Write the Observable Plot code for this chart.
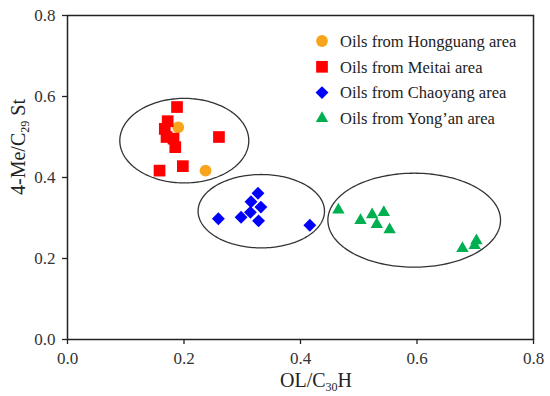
<!DOCTYPE html>
<html><head><meta charset="utf-8">
<script src="https://cdn.jsdelivr.net/npm/d3@7"></script>
<script src="https://cdn.jsdelivr.net/npm/@observablehq/plot@0.6"></script>
<style>
body{margin:0;background:#fff;}
#wrap{position:relative;width:550px;height:396px;}
</style></head><body><div id="wrap"></div>
<script>
// ---- data ----
const hongguangX = [0.190, 0.237];
const hongguangY = [0.524, 0.417];
const meitaiX = [0.188, 0.172, 0.167, 0.170, 0.182, 0.185, 0.260, 0.198, 0.158];
const meitaiY = [0.574, 0.539, 0.520, 0.500, 0.496, 0.475, 0.500, 0.428, 0.417];
const chaoyangX = [0.327, 0.315, 0.332, 0.314, 0.298, 0.259, 0.328, 0.416];
const chaoyangY = [0.361, 0.340, 0.327, 0.314, 0.302, 0.298, 0.293, 0.282];
const yonganX = [0.465, 0.503, 0.523, 0.543, 0.531, 0.553, 0.678, 0.702, 0.699];
const yonganY = [0.320, 0.294, 0.308, 0.314, 0.284, 0.271, 0.225, 0.244, 0.232];
const seriesNames = ["Oils from Hongguang area", "Oils from Meitai area", "Oils from Chaoyang area", "Oils from Yong\u2019an area"];
const xTicks = [0, 0.2, 0.4, 0.6, 0.8];
const yTicks = [0, 0.2, 0.4, 0.6, 0.8];
// group ellipses: center and semi-axes in data units
const ellipseCx = [0.2005, 0.3327, 0.5952];
const ellipseCy = [0.491, 0.3168, 0.2946];
const ellipseRx = [0.1107, 0.1085, 0.1482];
const ellipseRy = [0.1044, 0.0906, 0.1160];

// ---- styles ----
const colors = ["#F9A51B", "#FF0000", "#0000FF", "#00B050"];
const symbols = ["circle", "square", "diamond2", "triangle"];
const radii = [5.9, 6.6, 5.8, 4.6];
const FONT = "'Liberation Serif', 'Times New Roman', serif";

const toRows = (xs, ys) => xs.map((x, i) => ({x, y: ys[i]}));
const groups = [
  toRows(hongguangX, hongguangY),
  toRows(meitaiX, meitaiY),
  toRows(chaoyangX, chaoyangY),
  toRows(yonganX, yonganY)
];

const ellipsePts = [];
ellipseCx.forEach((cx, k) => {
  for (let i = 0; i < 180; i++) {
    const t = (i / 180) * 2 * Math.PI;
    ellipsePts.push({g: k, x: cx + ellipseRx[k] * Math.cos(t), y: ellipseCy[k] + ellipseRy[k] * Math.sin(t)});
  }
});

const chart = Plot.plot({
  width: 550,
  height: 396,
  marginLeft: 67,
  marginRight: 17,
  marginTop: 15,
  marginBottom: 57,
  style: {fontFamily: FONT, fontSize: "17px", color: "#333", background: "#fff"},
  x: {domain: [0, 0.8]},
  y: {domain: [0, 0.8]},
  marks: [
    Plot.line(ellipsePts, {x: "x", y: "y", z: "g", curve: "linear-closed", stroke: "#333", strokeWidth: 1.3}),
    ...groups.map((rows, k) => Plot.dot(rows, {x: "x", y: "y", symbol: () => symbols[k], r: radii[k], fill: colors[k], stroke: "none"})),
    Plot.frame({stroke: "#222", strokeWidth: 1.5}),
    Plot.axisX({ticks: xTicks, tickFormat: d3.format(".1f"), tickSize: 5, tickPadding: 7, label: null, fontSize: 17, stroke: "#222", strokeWidth: 1.3}),
    Plot.axisY({ticks: yTicks, tickFormat: d3.format(".1f"), tickSize: 5, tickPadding: 7, label: null, fontSize: 17, stroke: "#222", strokeWidth: 1.3})
  ]
});
document.getElementById("wrap").appendChild(chart);

const svg = d3.select(chart);
// axis labels with subscripts
const xl = svg.append("text").attr("x", 316).attr("y", 387).attr("text-anchor", "middle")
  .style("font-size", "20px").attr("fill", "#222");
xl.append("tspan").text("OL/C");
xl.append("tspan").text("30").style("font-size", "12px").attr("dy", 4);
xl.append("tspan").text("H").attr("dy", -4);

const yl = svg.append("text").attr("transform", "translate(25,147) rotate(-90)").attr("text-anchor", "middle")
  .style("font-size", "20px").attr("fill", "#222");
yl.append("tspan").text("4-Me/C");
yl.append("tspan").text("29").style("font-size", "12px").attr("dy", 4);
yl.append("tspan").text(" St").attr("dy", -4);

// legend
const symMap = {circle: d3.symbolCircle, square: d3.symbolSquare, diamond2: d3.symbolDiamond2, triangle: d3.symbolTriangle};
const lg = svg.append("g").attr("transform", "translate(322,41)");
seriesNames.forEach((name, k) => {
  const row = lg.append("g").attr("transform", `translate(0,${k * 25.8})`);
  row.append("path").attr("d", d3.symbol(symMap[symbols[k]], Math.PI * radii[k] * radii[k])()).attr("fill", colors[k]);
  row.append("text").attr("x", 18).attr("dy", "0.35em").attr("text-anchor", "start").text(name)
    .style("font-size", "16.5px").attr("fill", "#222");
});

svg.selectAll("text").style("font-family", FONT);
</script></body></html>
